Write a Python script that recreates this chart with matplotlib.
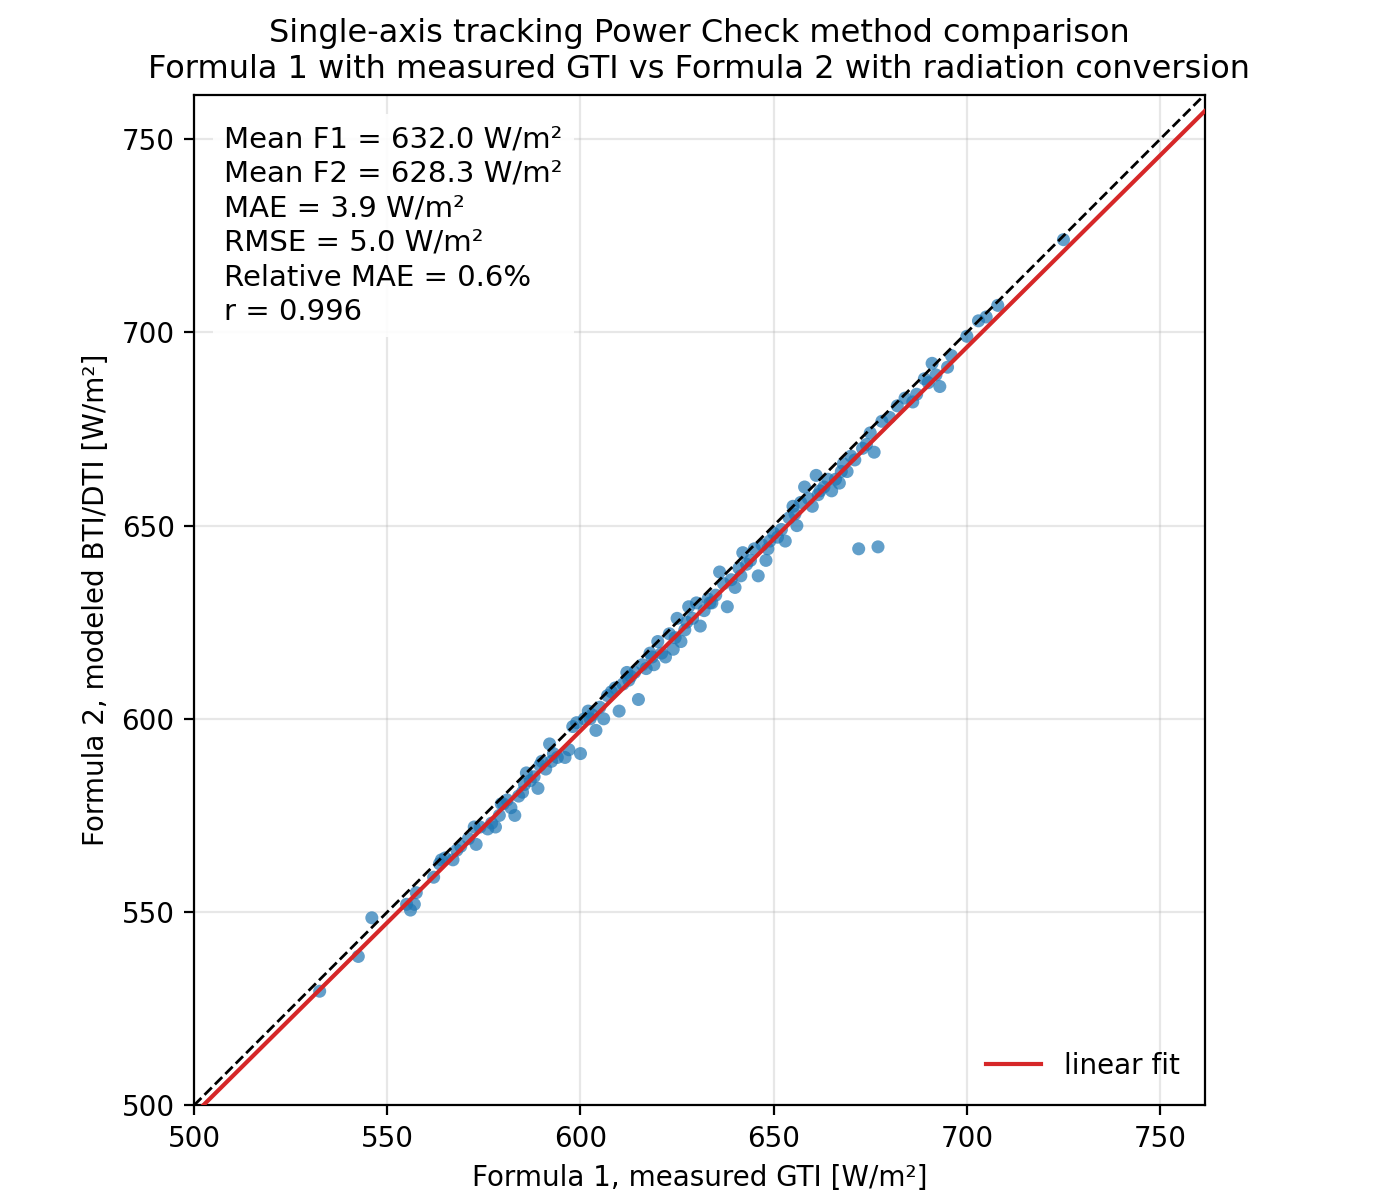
import numpy as np
from matplotlib import pyplot as plt

# values
f1 = [532.5, 542.5, 546, 555, 556, 557, 557.5, 562, 563.5, 564, 565, 567, 568, 569, 571, 572.5, 573, 574, 576, 577,
      578, 579, 580, 581, 582, 583, 584, 585, 586, 587, 588, 589, 589.5, 590, 591, 592, 593, 594, 596, 597,
      598, 599, 600, 601, 602, 603, 604, 605, 606, 607, 608, 609, 610, 611, 612, 613, 614, 615, 616, 617,
      618, 619, 620, 621, 622, 623, 624, 625, 626, 627, 628, 629, 630, 631, 632, 633, 634, 635, 636, 637,
      638, 639, 640, 641, 642, 643, 644, 645, 646, 647, 648, 649, 650, 651, 652, 653, 654, 655, 656, 657,
      658, 659, 660, 661, 662, 663, 664, 665, 666, 667, 668, 669, 670, 671, 672, 673, 674, 675, 676, 677,
      678, 680, 682, 684, 686, 687, 689, 690, 691, 692, 693, 695, 696, 700, 703, 705, 708, 725,
      612.5, 618.5, 624.5, 627.5, 633.5, 641.5, 648.5, 655.5, 661.5, 667.5, 602.5, 592.5, 585.5, 579.5]
f2 = [529.5, 538.5, 548.5, 552, 550.5, 552, 555, 559, 562.5, 563.5, 564, 563.5, 566, 567, 569, 572, 567.5, 572, 571.5, 573,
      572, 575, 578, 579, 577, 575, 580, 581, 586, 584, 585, 582, 588, 589, 587, 593.5, 591, 590, 590, 592,
      598, 599, 591, 600, 602, 601, 597, 603, 600, 606, 607, 608, 602, 609, 612, 611, 612, 605, 614, 613,
      617, 614, 620, 617, 616, 622, 618, 626, 620, 623, 629, 626, 630, 624, 628, 631, 630, 632, 638, 635,
      629, 636, 634, 639, 643, 640, 641, 644, 637, 645, 641, 646, 648, 647, 649, 646, 652, 655, 650, 656,
      660, 657, 655, 663, 659, 660, 662, 659, 662, 661, 666, 664, 668, 667, 644, 670, 671, 674, 669, 644.5,
      677, 678, 681, 683, 682, 684, 688, 687, 692, 689, 686, 691, 694, 699, 703, 704, 707, 724,
      610, 616, 621, 625, 630, 637, 644, 653, 658, 664, 600, 589, 583, 578]
stats_text = ("Mean F1 = 632.0 W/m²\nMean F2 = 628.3 W/m²\nMAE = 3.9 W/m²\n"
              "RMSE = 5.0 W/m²\nRelative MAE = 0.6%\nr = 0.996")

x = np.array(f1)
y = np.array(f2)

fig, ax = plt.subplots(figsize=(7, 6), dpi=200)
fig.subplots_adjust(left=0.138, right=0.861, bottom=0.079, top=0.921)
ax.scatter(x, y, s=22, color='tab:blue', alpha=0.7, edgecolors='none', zorder=2)

lim = (500, 761.5)
ax.plot(lim, lim, 'k--', lw=1, zorder=3)
slope, icpt = np.polyfit(x[y > 648 - 0 * x] if False else x, y, 1)
xx = np.array(lim)
ax.plot(xx, slope * xx + icpt, color='tab:red', lw=1.5, label='linear fit', zorder=3)

ax.set_xlim(lim)
ax.set_ylim(lim)
ax.set_aspect('equal')
ax.set_xticks([500, 550, 600, 650, 700, 750])
ax.set_yticks([500, 550, 600, 650, 700, 750])
ax.grid(alpha=0.3, zorder=0)
ax.set_xlabel('Formula 1, measured GTI [W/m²]')
ax.set_ylabel('Formula 2, modeled BTI/DTI [W/m²]')
ax.set_title('Single-axis tracking Power Check method comparison\n'
             'Formula 1 with measured GTI vs Formula 2 with radiation conversion', fontsize=11.5)
ax.text(0.03, 0.97, stats_text, transform=ax.transAxes, va='top', ha='left', fontsize=10.5,
        linespacing=1.3, bbox=dict(facecolor='white', edgecolor='none', alpha=0.9), zorder=4)
ax.legend(loc='lower right', frameon=False)

plt.savefig('out.png')
